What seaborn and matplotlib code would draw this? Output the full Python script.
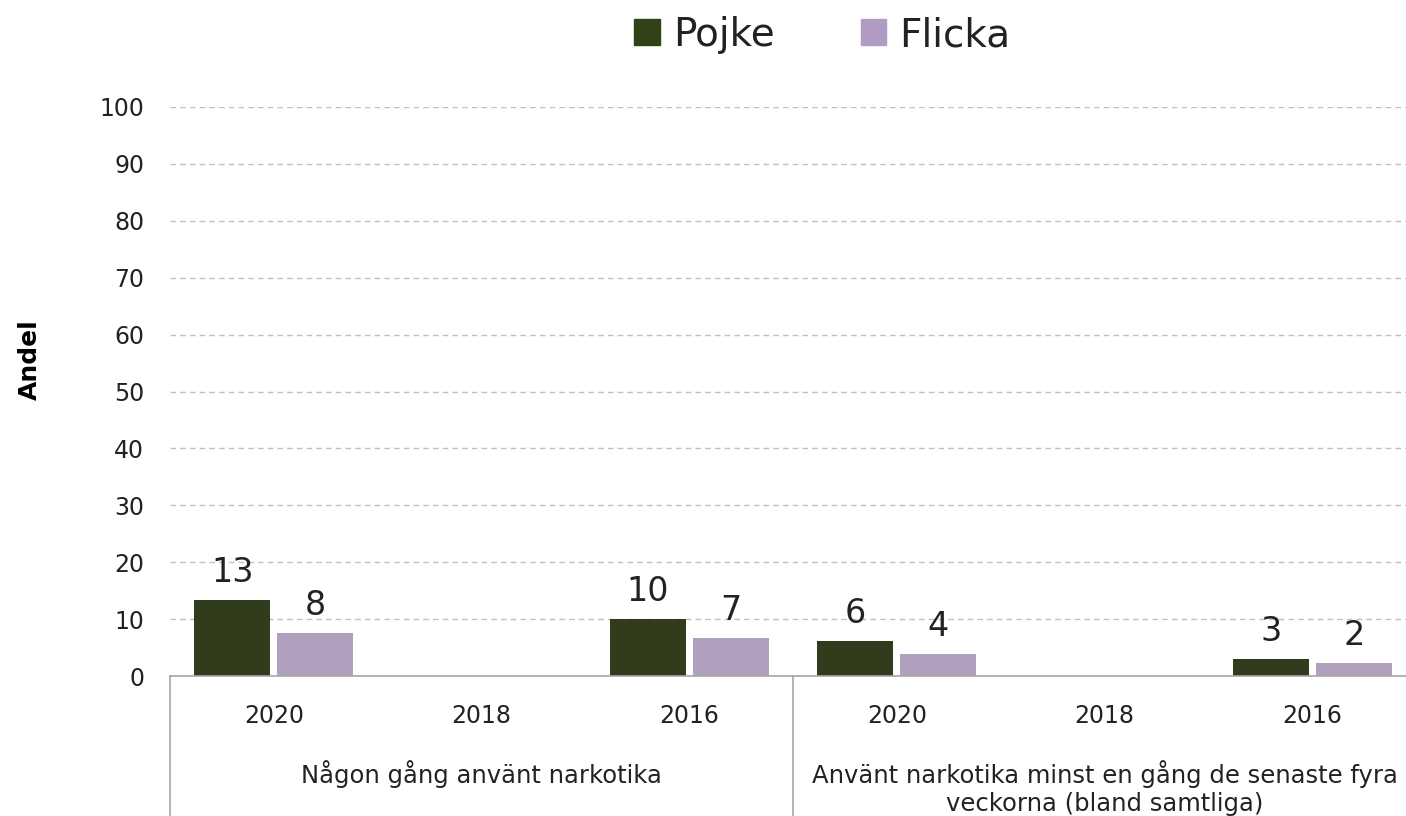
import numpy as np
import matplotlib
matplotlib.use("Agg")
import matplotlib.pyplot as plt
import matplotlib.transforms as transforms
import pandas as pd
import seaborn as sns

# data
groups = ["Någon gång använt narkotika",
          "Använt narkotika minst en gång de senaste fyra\nveckorna (bland samtliga)"]
years = ["2020", "2018", "2016"]
pojke = [13.4, np.nan, 10.0, 6.1, np.nan, 3.0]
flicka = [7.6, np.nan, 6.6, 3.9, np.nan, 2.2]
series = ["Pojke", "Flicka"]
colors = ["#334117", "#B09BC3"]

mystyle = {'axes.axisbelow': True,
           'axes.edgecolor': '#A6A6A6',
           'axes.facecolor': 'white',
           'axes.grid': False,
           'axes.spines.bottom': True,
           'axes.spines.left': False,
           'axes.spines.right': False,
           'axes.spines.top': False,
           'figure.facecolor': 'white',
           'text.color': '#222222',
           'xtick.color': '#222222',
           'ytick.color': '#222222',
           'xtick.bottom': False,
           'ytick.left': False}
sns.set_style(mystyle)
plt.rcParams['font.family'] = ['DejaVu Sans']

# long-form table, one x key per (group, year)
keys = [f"{g}|{y}" for g in range(len(groups)) for y in years]
rows = []
for k, p, f in zip(keys, pojke, flicka):
    rows.append((k, "Pojke", p))
    rows.append((k, "Flicka", f))
df = pd.DataFrame(rows, columns=["key", "Kön", "Andel"]).dropna()

fig = plt.figure(figsize=(14.06, 8.16), dpi=100)
ax = fig.add_axes([170 / 1406, 1 - 676 / 816, 1246 / 1406, 569 / 816])

sns.barplot(data=df, x="key", y="Andel", hue="Kön", order=keys,
            hue_order=series, palette=colors, width=0.8, gap=0.085,
            linewidth=0, ax=ax, legend=False)

for c in ax.containers:
    ax.bar_label(c, fmt="%.0f", padding=8, fontsize=24, color="#222222")

ax.set_ylim(0, 100)
ax.set_xlim(-0.5, len(keys) - 0.5)
ax.set_yticks(range(0, 101, 10))
ax.yaxis.grid(True, linestyle=(0, (4, 3)), color="#C0C0C0", linewidth=1)
ax.tick_params(axis="y", labelsize=17, pad=15)
ax.set_xticks(range(len(keys)))
ax.set_xticklabels(years * len(groups), fontsize=17)
ax.tick_params(axis="x", pad=17)
ax.set_xlabel("")
ax.set_ylabel("Andel", fontsize=18, fontweight="bold")
ax.yaxis.set_label_coords(-0.103, (676 - 360) / 569)
ax.spines["bottom"].set_linewidth(1.2)

# second level of category axis
trans = transforms.blended_transform_factory(ax.transData, ax.transAxes)
for i, g in enumerate(groups):
    ax.text(i * 3 + 1, -0.148, g, transform=trans, ha="center", va="top",
            fontsize=17.5, linespacing=1.2)
for xb in [-0.5, 2.5, 5.5]:
    ax.plot([xb, xb], [0, -0.25], transform=trans, color="#A6A6A6",
            linewidth=1.2, clip_on=False)

# legend on top
handles = [plt.Rectangle((0, 0), 1, 1, color=c) for c in colors]
fig.legend(handles, series, loc="center", bbox_to_anchor=(0.585, 0.957),
           ncol=2, frameon=False, fontsize=28, handlelength=0.65,
           handleheight=0.65, handletextpad=0.35, columnspacing=2.2)

fig.savefig("out.png", dpi=100)
